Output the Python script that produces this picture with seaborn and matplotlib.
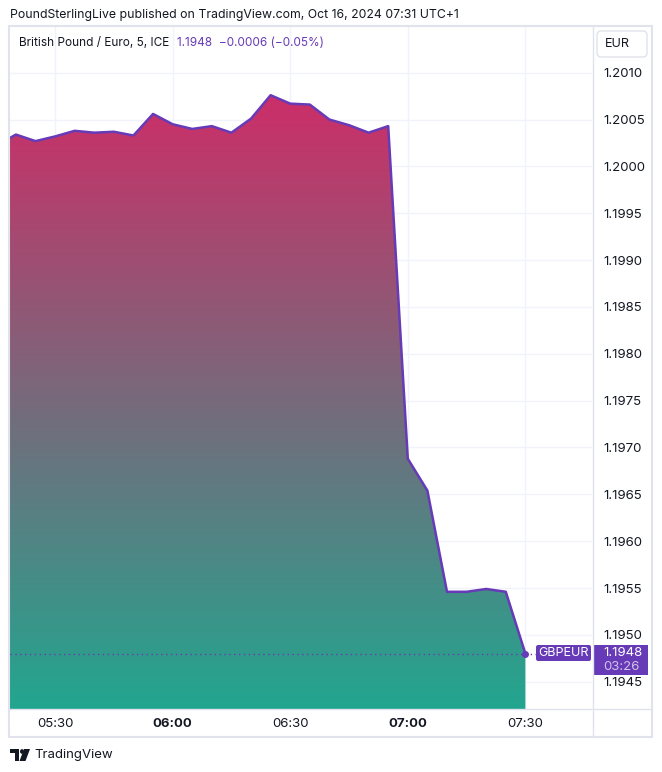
import numpy as np
import matplotlib
matplotlib.use("Agg")
import matplotlib.pyplot as plt
import seaborn as sns
from matplotlib.colors import LinearSegmentedColormap
from matplotlib.patches import Rectangle, FancyBboxPatch, Polygon, Circle
from matplotlib.lines import Line2D

# GBP/EUR 5-minute closes (ICE), Oct 16 2024
times = ["05:15", "05:20", "05:25", "05:30", "05:35", "05:40", "05:45", "05:50",
         "05:55", "06:00", "06:05", "06:10", "06:15", "06:20", "06:25", "06:30",
         "06:35", "06:40", "06:45", "06:50", "06:55", "07:00", "07:05", "07:10",
         "07:15", "07:20", "07:25", "07:30"]
closes = [1.20022, 1.20034, 1.20027, 1.20032, 1.20038, 1.20036, 1.20037, 1.20033,
          1.20056, 1.20045, 1.20040, 1.20043, 1.20036, 1.20051, 1.20076, 1.20067,
          1.20066, 1.20050, 1.20044, 1.20036, 1.20043, 1.19688, 1.19654, 1.19546,
          1.19546, 1.19549, 1.19546, 1.19480]

time_ticks = ["05:30", "06:00", "06:30", "07:00", "07:30"]
bold_ticks = ["06:00", "07:00"]
price_ticks = [1.1945, 1.1950, 1.1955, 1.1960, 1.1965, 1.1970, 1.1975,
               1.1980, 1.1985, 1.1990, 1.1995, 1.2000, 1.2005, 1.2010]

symbol = "GBPEUR"
currency = "EUR"
countdown = "03:26"
header = "PoundSterlingLive published on TradingView.com, Oct 16, 2024 07:31 UTC+1"
legend_name = "British Pound / Euro, 5, ICE"
legend_vals = "1.1948  \u22120.0006 (\u22120.05%)"

PURPLE = "#673ab7"
TEXT = "#131722"
GRID = "#f0f3fa"
BORDER = "#e0e3eb"

W, H = 662, 772


def to_min(s):
    h, m = s.split(":")
    return int(h) * 60 + int(m)


def fx(x):
    return x / W


def fy(y):
    return 1 - y / H


t = np.array([to_min(s) for s in times], dtype=float)
v = np.array(closes)

sns.set_theme(style="white")
plt.rcParams["font.family"] = ["Inter", "DejaVu Sans"]

fig = plt.figure(figsize=(W / 100, H / 100), dpi=100)
ax = fig.add_axes([fx(10), fy(709), (592 - 10) / W, (709 - 27) / H])

xmin, xmax = 318.5, 467.0
ymin, ymax = 1.194209, 1.201488
ax.set_xlim(xmin, xmax)
ax.set_ylim(ymin, ymax)

# gradient area below the line
poly = ax.fill_between(t, v, ymin, color="none", lw=0)
cmap = LinearSegmentedColormap.from_list("area", ["#22a68f", "#cc2e68"])
grad = np.linspace(0, 1, 256).reshape(-1, 1)
im = ax.imshow(grad, cmap=cmap, origin="lower", aspect="auto",
               extent=[xmin - 10, xmax, ymin, v.max()], zorder=1)
im.set_clip_path(poly.get_paths()[0], transform=ax.transData)

sns.lineplot(x=t, y=v, color=PURPLE, lw=1.8, ax=ax, zorder=3)
ax.plot(t[-1], v[-1], "o", color=PURPLE, ms=4, zorder=4)
ax.axhline(v[-1], color=PURPLE, lw=1, ls=(0, (1, 2.5)), zorder=2)

# axes, ticks and grid
ax.set_xticks([to_min(s) for s in time_ticks])
ax.set_xticklabels(time_ticks)
ax.set_yticks(price_ticks)
ax.set_yticklabels([f"{p:.4f}" for p in price_ticks])
ax.yaxis.tick_right()
ax.tick_params(axis="y", length=0, pad=8, labelsize=9.5, labelcolor=TEXT)
ax.tick_params(axis="x", length=0, pad=6.5, labelsize=9.5, labelcolor=TEXT)
for lbl in ax.get_xticklabels():
    if lbl.get_text() in bold_ticks:
        lbl.set_fontweight("bold")
ax.grid(True, color=GRID, lw=1)
ax.set_axisbelow(True)
for s in ax.spines.values():
    s.set_visible(False)
ax.set_xlabel("")
ax.set_ylabel("")

# frame of the widget
fig.add_artist(Rectangle((fx(9), fy(737)), (652 - 9) / W, (737 - 26) / H,
                         transform=fig.transFigure, fill=False, ec=BORDER, lw=1.5))
fig.add_artist(Line2D([fx(592.5), fx(592.5)], [fy(26), fy(737)],
                      transform=fig.transFigure, color=BORDER, lw=1))
fig.add_artist(Line2D([fx(9), fx(652)], [fy(709), fy(709)],
                      transform=fig.transFigure, color=BORDER, lw=1))

# header and legend
fig.text(fx(10), fy(15), header, fontsize=8.85, color=TEXT, va="center")
fig.text(fx(19), fy(43), legend_name, fontsize=8.5, color=TEXT, va="center")
fig.text(fx(177), fy(43), legend_vals, fontsize=8.5, color=PURPLE, va="center")

# currency button
fig.add_artist(FancyBboxPatch((fx(597), fy(57)), (647 - 597) / W, (57 - 31) / H,
                              boxstyle="round,pad=0,rounding_size=0.006",
                              transform=fig.transFigure, fc="white", ec=BORDER, lw=1))
fig.text(fx(605), fy(44), currency, fontsize=9, color=TEXT, va="center")

# last price labels
fig.add_artist(FancyBboxPatch((fx(536), fy(661)), (591 - 536) / W, (661 - 645) / H,
                              boxstyle="round,pad=0,rounding_size=0.003",
                              transform=fig.transFigure, fc=PURPLE, ec="none"))
fig.text(fx(563.5), fy(653), symbol, fontsize=9, color="white", ha="center", va="center")
fig.add_artist(Rectangle((fx(593), fy(675)), (648 - 593) / W, (675 - 645) / H,
                         transform=fig.transFigure, fc=PURPLE, ec="none"))
fig.text(fx(603), fy(653), f"{v[-1]:.4f}", fontsize=9.5, color="white", va="center")
fig.text(fx(603), fy(667), countdown, fontsize=9.5, color="#d1c4e9", va="center")

# TradingView footer logo
for patch in [Rectangle((fx(10), fy(753)), 9 / W, 4 / H),
              Rectangle((fx(15), fy(761)), 4 / W, 12 / H),
              Polygon([(fx(24), fy(749)), (fx(30), fy(749)),
                       (fx(25.5), fy(761)), (fx(19.5), fy(761))]),
              Circle((fx(22), fy(751.5)), 2 / W)]:
    patch.set_transform(fig.transFigure)
    patch.set_facecolor(TEXT)
    patch.set_edgecolor("none")
    fig.add_artist(patch)
fig.text(fx(34), fy(755), "TradingView", fontsize=9.5, color=TEXT, va="center")

fig.savefig("out.png", dpi=100, facecolor="white")
